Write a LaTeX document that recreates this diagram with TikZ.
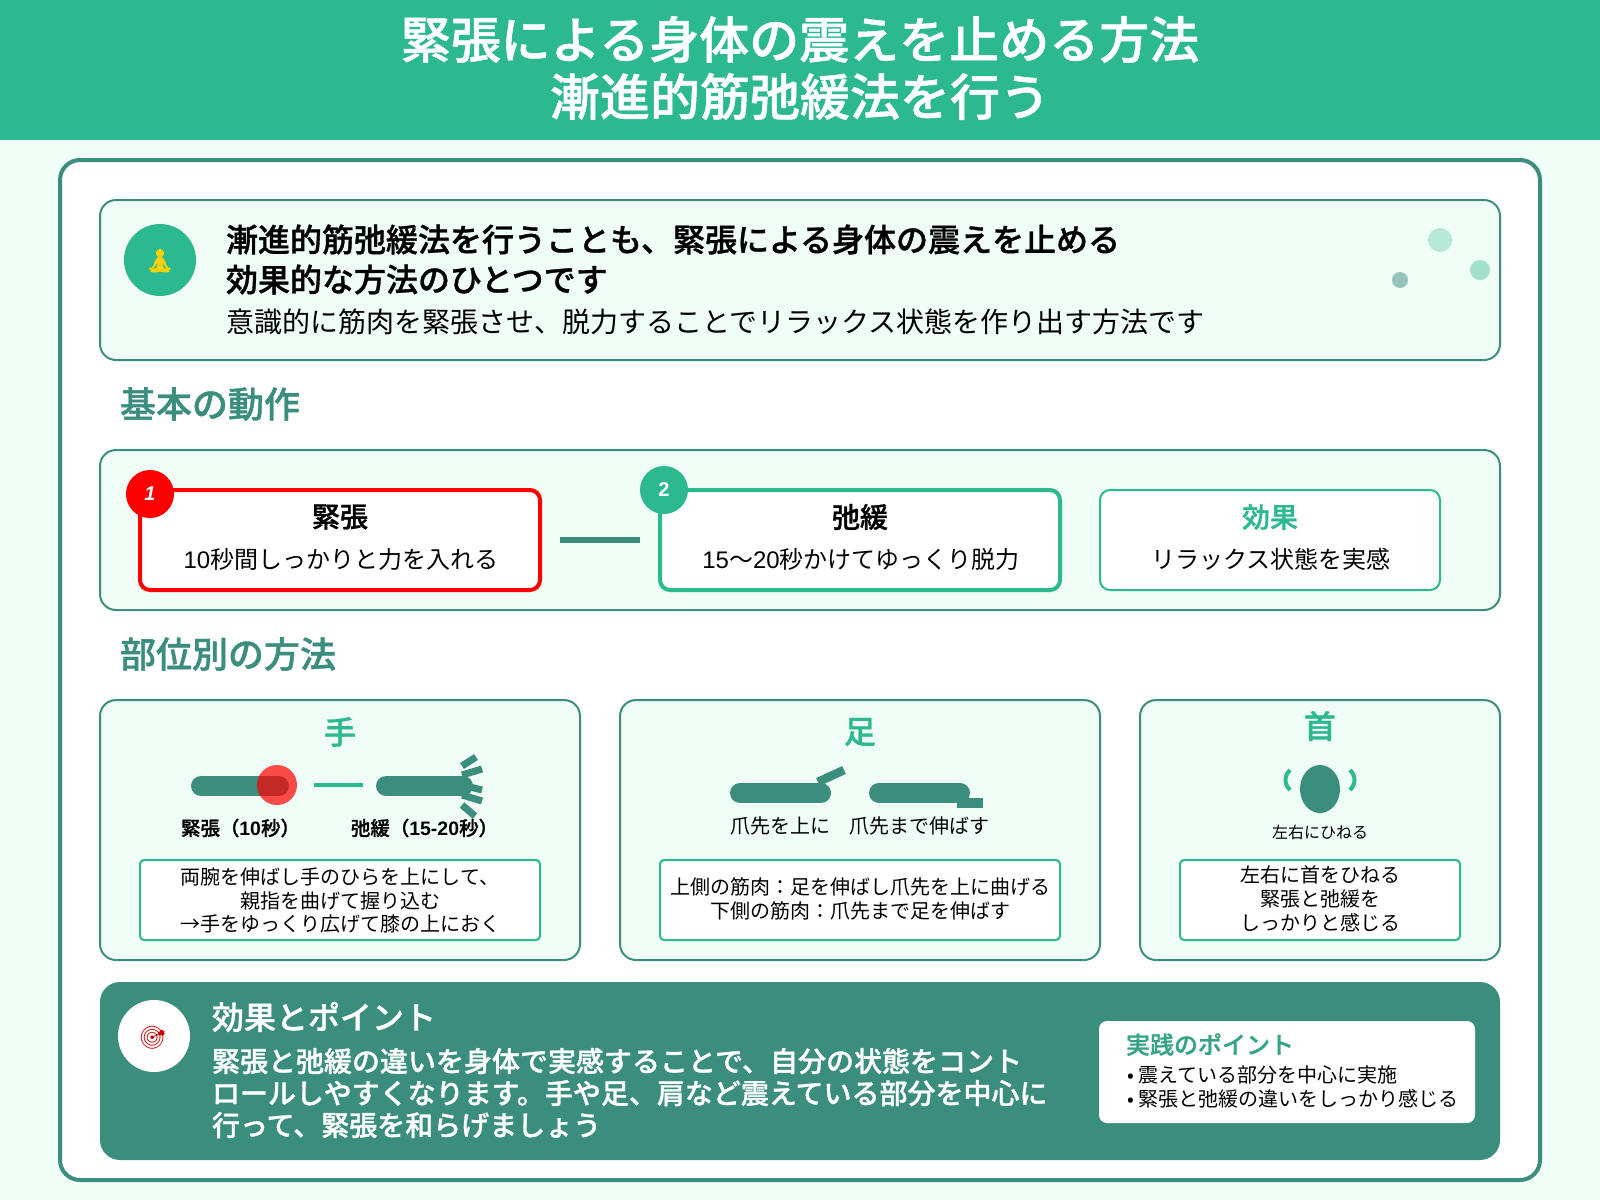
\documentclass[tikz,border=0pt]{standalone}
\usepackage{fontspec}
\usetikzlibrary{shapes.geometric}
\setmainfont{Noto Sans CJK JP}[BoldFont={Noto Sans CJK JP Medium},BoldFeatures={FakeBold=1}]
\newfontfamily\latinf{Liberation Sans}
\newfontfamily\emojif{Noto Emoji}
\newcommand\lat[1]{{\latinf #1}}
\newcommand\fsz[1]{\fontsize{#1}{#1}\selectfont}
\newcommand\fszl[2]{\fontsize{#1}{#2}\selectfont}
\definecolor{brand}{HTML}{2DB98F}
\definecolor{deep}{HTML}{3B8D7D}
\definecolor{pale}{HTML}{F0FDF6}
\definecolor{alert}{HTML}{FF0000}
\newcommand\rectnode[7][]{%
  \pgfmathsetmacro\rw{(#5-#3)*0.75}\pgfmathsetmacro\rh{(#6-#4)*0.75}%
  \pgfmathsetmacro\rx{(#3+#5)/2}\pgfmathsetmacro\ry{(#4+#6)/2}%
  \node[#1,minimum width=\rw pt,minimum height=\rh pt] (#2) at (\rx,\ry) {#7};}
\tikzset{
  panel/.style={draw=deep,line width=1.5pt,fill=pale,rounded corners=12pt,inner sep=0pt,outer sep=0pt},
  stepbox/.style={fill=white,rounded corners=7.5pt,inner sep=0pt,outer sep=0pt},
  notebox/.style={draw=brand,line width=1.5pt,fill=white,rounded corners=3pt,inner sep=0pt,outer sep=0pt},
  dot/.style={circle,inner sep=0pt,outer sep=0pt},
  badge/.style={dot,minimum size=36pt,text=white,font=\bfseries\fsz{15}},
  txt/.style={inner sep=0pt,outer sep=0pt},
  heading/.style={txt,anchor=west,text=deep,font=\bfseries\fsz{27}},
  cardtitle/.style={txt,text=brand,font=\bfseries\fsz{24}},
  steptitle/.style={txt,font=\bfseries\fsz{21}},
  stepsub/.style={txt,font=\fsz{18}},
  note/.style={txt,align=center,font=\fszl{15}{17.8}},
  limb/.style={deep,line width=15pt,line cap=round},
  finger/.style={deep,line width=5.25pt},
}
\begin{document}
\begin{tikzpicture}[x=0.75pt,y=-0.75pt]
\useasboundingbox (0,0) rectangle (1600,1200);
\fill[pale] (0,0) rectangle (1600,1200);
\rectnode[fill=brand,inner sep=0pt,outer sep=0pt]{header}{0}{0}{1600}{140}{}
\node[txt,align=center,text=white,font=\bfseries\fszl{37.5}{42.8}] (title) at (800,68) {緊張による身体の震えを止める方法\\漸進的筋弛緩法を行う};
\rectnode[draw=deep,line width=3pt,fill=white,rounded corners=15pt,inner sep=0pt,outer sep=0pt]{main}{60}{160}{1540}{1180}{}

% intro
\rectnode[panel]{intro}{100}{200}{1500}{360}{}
\node[dot,fill=brand,minimum size=54pt] (introicon) at (160,260) {};
\node[txt,text=yellow!70!orange,font=\emojif\fsz{18}] (meditate) at (160,261) {🧘};
\node[txt,anchor=west,align=left,font=\bfseries\fszl{24}{30}] (introhead) at (226,259.5) {漸進的筋弛緩法を行うことも、緊張による身体の震えを止める\\効果的な方法のひとつです};
\node[txt,anchor=west,font=\fsz{21}] (introsub) at (226,322) {意識的に筋肉を緊張させ、脱力することでリラックス状態を作り出す方法です};
\node[dot,fill=brand,opacity=.3,minimum size=18pt] (dota) at (1440,240) {};
\node[dot,fill=brand,opacity=.4,minimum size=15pt] (dotb) at (1480,270) {};
\node[dot,fill=deep,opacity=.5,minimum size=12pt] (dotc) at (1400,280) {};

% basic motion
\node[heading] (basic) at (120,404) {基本の動作};
\rectnode[panel]{flow}{100}{450}{1500}{610}{}
\rectnode[stepbox,draw=alert,line width=3pt]{tense}{140}{490}{540}{590}{}
\rectnode[stepbox,draw=brand,line width=3pt]{relax}{660}{490}{1060}{590}{}
\rectnode[stepbox,draw=brand,line width=1.5pt]{effect}{1100}{490}{1440}{590}{}
\draw[deep,line width=4.5pt,shorten <=15pt,shorten >=15pt] (tense.east) -- (relax.west);
\node[badge,fill=alert] (badgea) at (150,494) {\itshape\latinf 1};
\node[badge,fill=brand] (badgeb) at (664,490) {\latinf 2};
\node[steptitle] (tensetitle) at (340,517) {緊張};
\node[stepsub] (tensesub) at (341,559) {\lat{10}秒間しっかりと力を入れる};
\node[steptitle] (relaxtitle) at (860,517) {弛緩};
\node[stepsub] (relaxsub) at (861,559) {\lat{15}〜\lat{20}秒かけてゆっくり脱力};
\node[steptitle,text=brand] (effecttitle) at (1270,517) {効果};
\node[stepsub] (effectsub) at (1271,559) {リラックス状態を実感};

% by part
\node[heading] (parts) at (120,654) {部位別の方法};
\rectnode[panel]{hand}{100}{700}{580}{960}{}
\rectnode[panel]{foot}{620}{700}{1100}{960}{}
\rectnode[panel]{neck}{1140}{700}{1500}{960}{}
\node[cardtitle] (handtitle) at (340,732) {手};
\node[cardtitle] (foottitle) at (860,732) {足};
\node[cardtitle] (necktitle) at (1320,726) {首};

% hand art
\draw[limb] (201,786) -- (279,786);
\node[dot,fill=alert,opacity=.7,minimum size=30pt] (grip) at (277,785) {};
\coordinate (handa) at (314,785);
\coordinate (handb) at (363,785);
\draw[brand,line width=3.5pt] (handa) -- (handb);
\draw[limb] (386,786) -- (463,786);
\draw[finger] (462,766) -- (476,757);
\draw[finger] (462,775) -- (482,769);
\draw[finger] (470,787) -- (482,790);
\draw[finger] (462,795) -- (482,801);
\draw[finger] (462,805) -- (475,816);
\node[txt,font=\bfseries\fsz{14.6}] (handl) at (240.5,828) {緊張（\lat{10}秒）};
\node[txt,font=\bfseries\fsz{14.6}] (handr) at (424.5,828) {弛緩（\lat{15-20}秒）};
\rectnode[notebox]{handbox}{140}{860}{540}{940}{}
\node[note] (handnote) at (340,900.5) {両腕を伸ばし手のひらを上にして、\\親指を曲げて握り込む\\→手をゆっくり広げて膝の上におく};

% foot art
\draw[limb] (740,793) -- (821,793);
\draw[deep,line width=6.5pt] (818,782) -- (844,770);
\draw[limb] (879,793) -- (960,793);
\fill[deep] (957,798) rectangle (983,808);
\node[txt,font=\fsz{15}] (footl) at (780,826) {爪先を上に};
\node[txt,font=\fsz{15}] (footr) at (919,826) {爪先まで伸ばす};
\rectnode[notebox]{footbox}{660}{860}{1060}{940}{}
\node[note] (footnote) at (860,899) {上側の筋肉：足を伸ばし爪先を上に曲げる\\下側の筋肉：爪先まで足を伸ばす};

% neck art
\node[ellipse,fill=deep,minimum width=30pt,minimum height=36pt,inner sep=0pt,outer sep=0pt] (head) at (1320,789) {};
\draw[brand,line width=3pt] (1290,770) .. controls (1284,776) and (1284,784) .. (1290,790);
\draw[brand,line width=3pt] (1350,770) .. controls (1356,776) and (1356,784) .. (1350,790);
\node[txt,font=\fsz{12}] (neckl) at (1320,832) {左右にひねる};
\rectnode[notebox]{neckbox}{1180}{860}{1460}{940}{}
\node[note] (necknote) at (1320,898.5) {左右に首をひねる\\緊張と弛緩を\\しっかりと感じる};

% bottom
\rectnode[fill=deep,rounded corners=15pt,inner sep=0pt,outer sep=0pt]{summary}{100}{982}{1500}{1160}{}
\node[dot,fill=white,minimum size=54pt] (targetdisc) at (154,1036) {};
\node[txt,text=red!80!black,font=\emojif\fsz{17}] (target) at (153,1038) {🎯};
\node[txt,anchor=west,text=white,font=\bfseries\fsz{24}] (sumtitle) at (212,1017) {効果とポイント};
\node[txt,anchor=west,align=left,text=white,font=\bfseries\fszl{21}{24}] (sumbody) at (212,1093) {緊張と弛緩の違いを身体で実感することで、自分の状態をコント\\ロールしやすくなります。手や足、肩など震えている部分を中心に\\行って、緊張を和らげましょう};
\rectnode[fill=white,rounded corners=6pt,inner sep=0pt,outer sep=0pt]{pointbox}{1099}{1021}{1475}{1123}{}
\node[txt,anchor=west,text=deep!50!brand,font=\bfseries\fsz{18}] (pointtitle) at (1126,1044.5) {実践のポイント};
\node[txt,anchor=west,align=left,font=\fszl{15}{17.6}] (pointlist) at (1127,1087) {• 震えている部分を中心に実施\\• 緊張と弛緩の違いをしっかり感じる};
\end{tikzpicture}
\end{document}
